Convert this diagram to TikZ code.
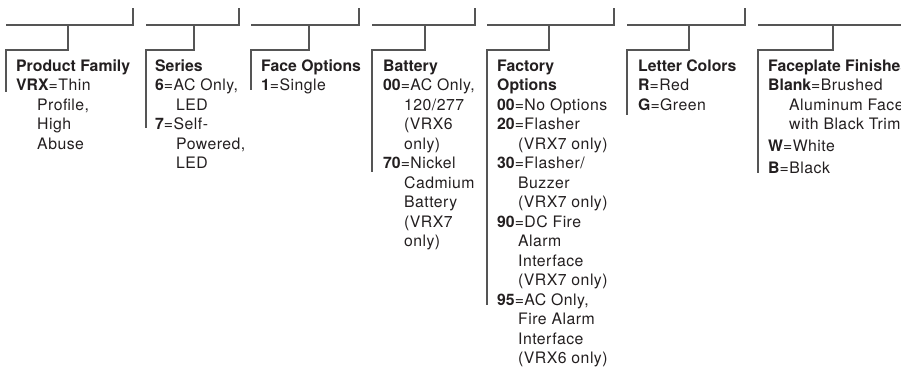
\documentclass[tikz,border=0pt]{standalone}
\usepackage{fontspec}
\setmainfont{TeX Gyre Heros}[LetterSpace=3,BoldFeatures={LetterSpace=0}]
\definecolor{rulegray}{HTML}{555555}
\definecolor{inkdark}{HTML}{231F20}
\tikzset{
  bracket/.style={draw=rulegray, line width=1.1pt},
  codecol/.style={anchor=base west, inner sep=0pt, text=inkdark,
    font=\fontsize{15.8}{19.5}\selectfont}
}
\newcommand{\ind}{\hspace*{21pt}}
\newcommand{\opt}[2]{\textbf{#1}=#2}
\newcommand{\colbox}[1]{\begin{tabular}[t]{@{}l@{}}#1\end{tabular}}

\begin{document}
\begin{tikzpicture}[x=1pt,y=-1pt]
  \useasboundingbox (0,0) rectangle (901,368);
  % brackets: left end / right end / stub / foot of the bar
  \foreach \l/\r/\s/\b in {6/133/68/92, 146/239/194/128, 251/359/309/90,
      372/475/425/172, 487/614/549/305, 627/745/689/115, 758/915/833/173}
    \draw[bracket] (\l,8) ++(\r-\l,0) -- (\r,25) -- (\l,25)
      (\s,25) -- (\s,50) -- (\l,50) -- (\l,\b);
  % code columns
  \node[codecol] (family) at (16,71) {\colbox{\textbf{Product Family}\\
    \opt{VRX}{Thin}\\ \ind Profile,\\ \ind High\\ \ind Abuse}};
  \node[codecol] (series) at (155,71) {\colbox{\textbf{Series}\\
    \opt{6}{AC Only,}\\ \ind LED\\ \opt{7}{Self-}\\ \ind Powered,\\ \ind LED}};
  \node[codecol] (face) at (261,71) {\colbox{\textbf{Face Options}\\
    \opt{1}{Single}}};
  \node[codecol] (battery) at (383,71) {\colbox{\textbf{Battery}\\
    \opt{00}{AC Only,}\\ \ind 120/277\\ \ind (VRX6\\ \ind only)\\
    \opt{70}{Nickel}\\ \ind Cadmium\\ \ind Battery\\ \ind (VRX7\\ \ind only)}};
  \node[codecol] (factory) at (497,71) {\colbox{\textbf{Factory}\\
    \textbf{Options}\\ \opt{00}{No Options}\\ \opt{20}{Flasher}\\
    \ind (VRX7 only)\\ \opt{30}{Flasher/}\\ \ind Buzzer\\ \ind (VRX7 only)\\
    \opt{90}{DC Fire}\\ \ind Alarm\\ \ind Interface\\ \ind (VRX7 only)\\
    \opt{95}{AC Only,}\\ \ind Fire Alarm\\ \ind Interface\\ \ind (VRX6 only)}};
  \node[codecol] (letter) at (638,71) {\colbox{\textbf{Letter Colors}\\
    \opt{R}{Red}\\ \opt{G}{Green}}};
  \node[codecol] (plate) at (768,71) {\colbox{\textbf{Faceplate Finishes}\\
    \opt{Blank}{Brushed}\\ \ind Aluminum Face\\ \ind with Black Trim\\[2.5pt]
    \opt{W}{White}\\[2.5pt] \opt{B}{Black}}};
\end{tikzpicture}
\end{document}
